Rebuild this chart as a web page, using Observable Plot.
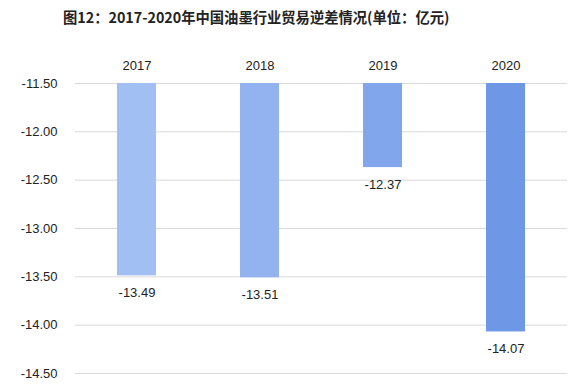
<!DOCTYPE html>
<html>
<head>
<meta charset="utf-8">
<script src="https://cdn.jsdelivr.net/npm/d3@7"></script>
<script src="https://cdn.jsdelivr.net/npm/@observablehq/plot@0.6"></script>
<style>
  html, body { margin: 0; padding: 0; background: #fff; }
  #wrap { width: 587px; height: 387px; overflow: hidden; }
  #title {
    height: 36px; line-height: 34px; padding-left: 63px;
    font-family: "Noto Sans CJK SC", sans-serif; font-weight: bold;
    font-size: 14.3px; color: #222; white-space: nowrap;
  }
</style>
</head>
<body>
<div id="wrap">
  <div id="title">图12：2017-2020年中国油墨行业贸易逆差情况(单位：亿元)</div>
  <div id="chart"></div>
</div>
<script>
// Trade deficit of China's ink industry, 2017–2020 (100 million yuan)
const years = ["2017", "2018", "2019", "2020"];
const deficit = [-13.49, -13.51, -12.37, -14.07];
const barColors = ["#a2bff3", "#93b2f0", "#82a6ec", "#6e98e6"];
const yTicks = [-11.5, -12.0, -12.5, -13.0, -13.5, -14.0, -14.5];
const baseline = -11.5;

const rows = years.map((year, i) => ({year, value: deficit[i], color: barColors[i]}));
// two decimals with a plain hyphen for the sign
const fmt = v => v.toFixed(2);

const chart = Plot.plot({
  width: 587,
  height: 351,
  marginLeft: 75,
  marginRight: 20,
  marginTop: 47,
  marginBottom: 14,
  style: {fontFamily: "'Liberation Sans', Arial, sans-serif", fontSize: "13px", color: "#222"},
  x: {domain: years, paddingInner: 0.68, paddingOuter: 0.34, axis: null},
  y: {domain: [-14.5, -11.5], axis: null},
  marks: [
    Plot.gridY(yTicks, {stroke: "#d9d9d9", strokeOpacity: 1, strokeWidth: 1}),
    Plot.axisY(yTicks, {tickSize: 0, tickPadding: 18, tickFormat: fmt, fontSize: 13, fill: "#222", label: null}),
    Plot.axisX({anchor: "top", tickSize: 0, tickPadding: 14, fontSize: 13, fill: "#222", label: null}),
    Plot.barY(rows, {x: "year", y1: baseline, y2: "value", fill: "color"}),
    Plot.text(rows, {x: "year", y: "value", text: d => fmt(d.value), dy: 17, fontSize: 13, fill: "#222"})
  ]
});
document.getElementById("chart").appendChild(chart);
</script>
</body>
</html>
